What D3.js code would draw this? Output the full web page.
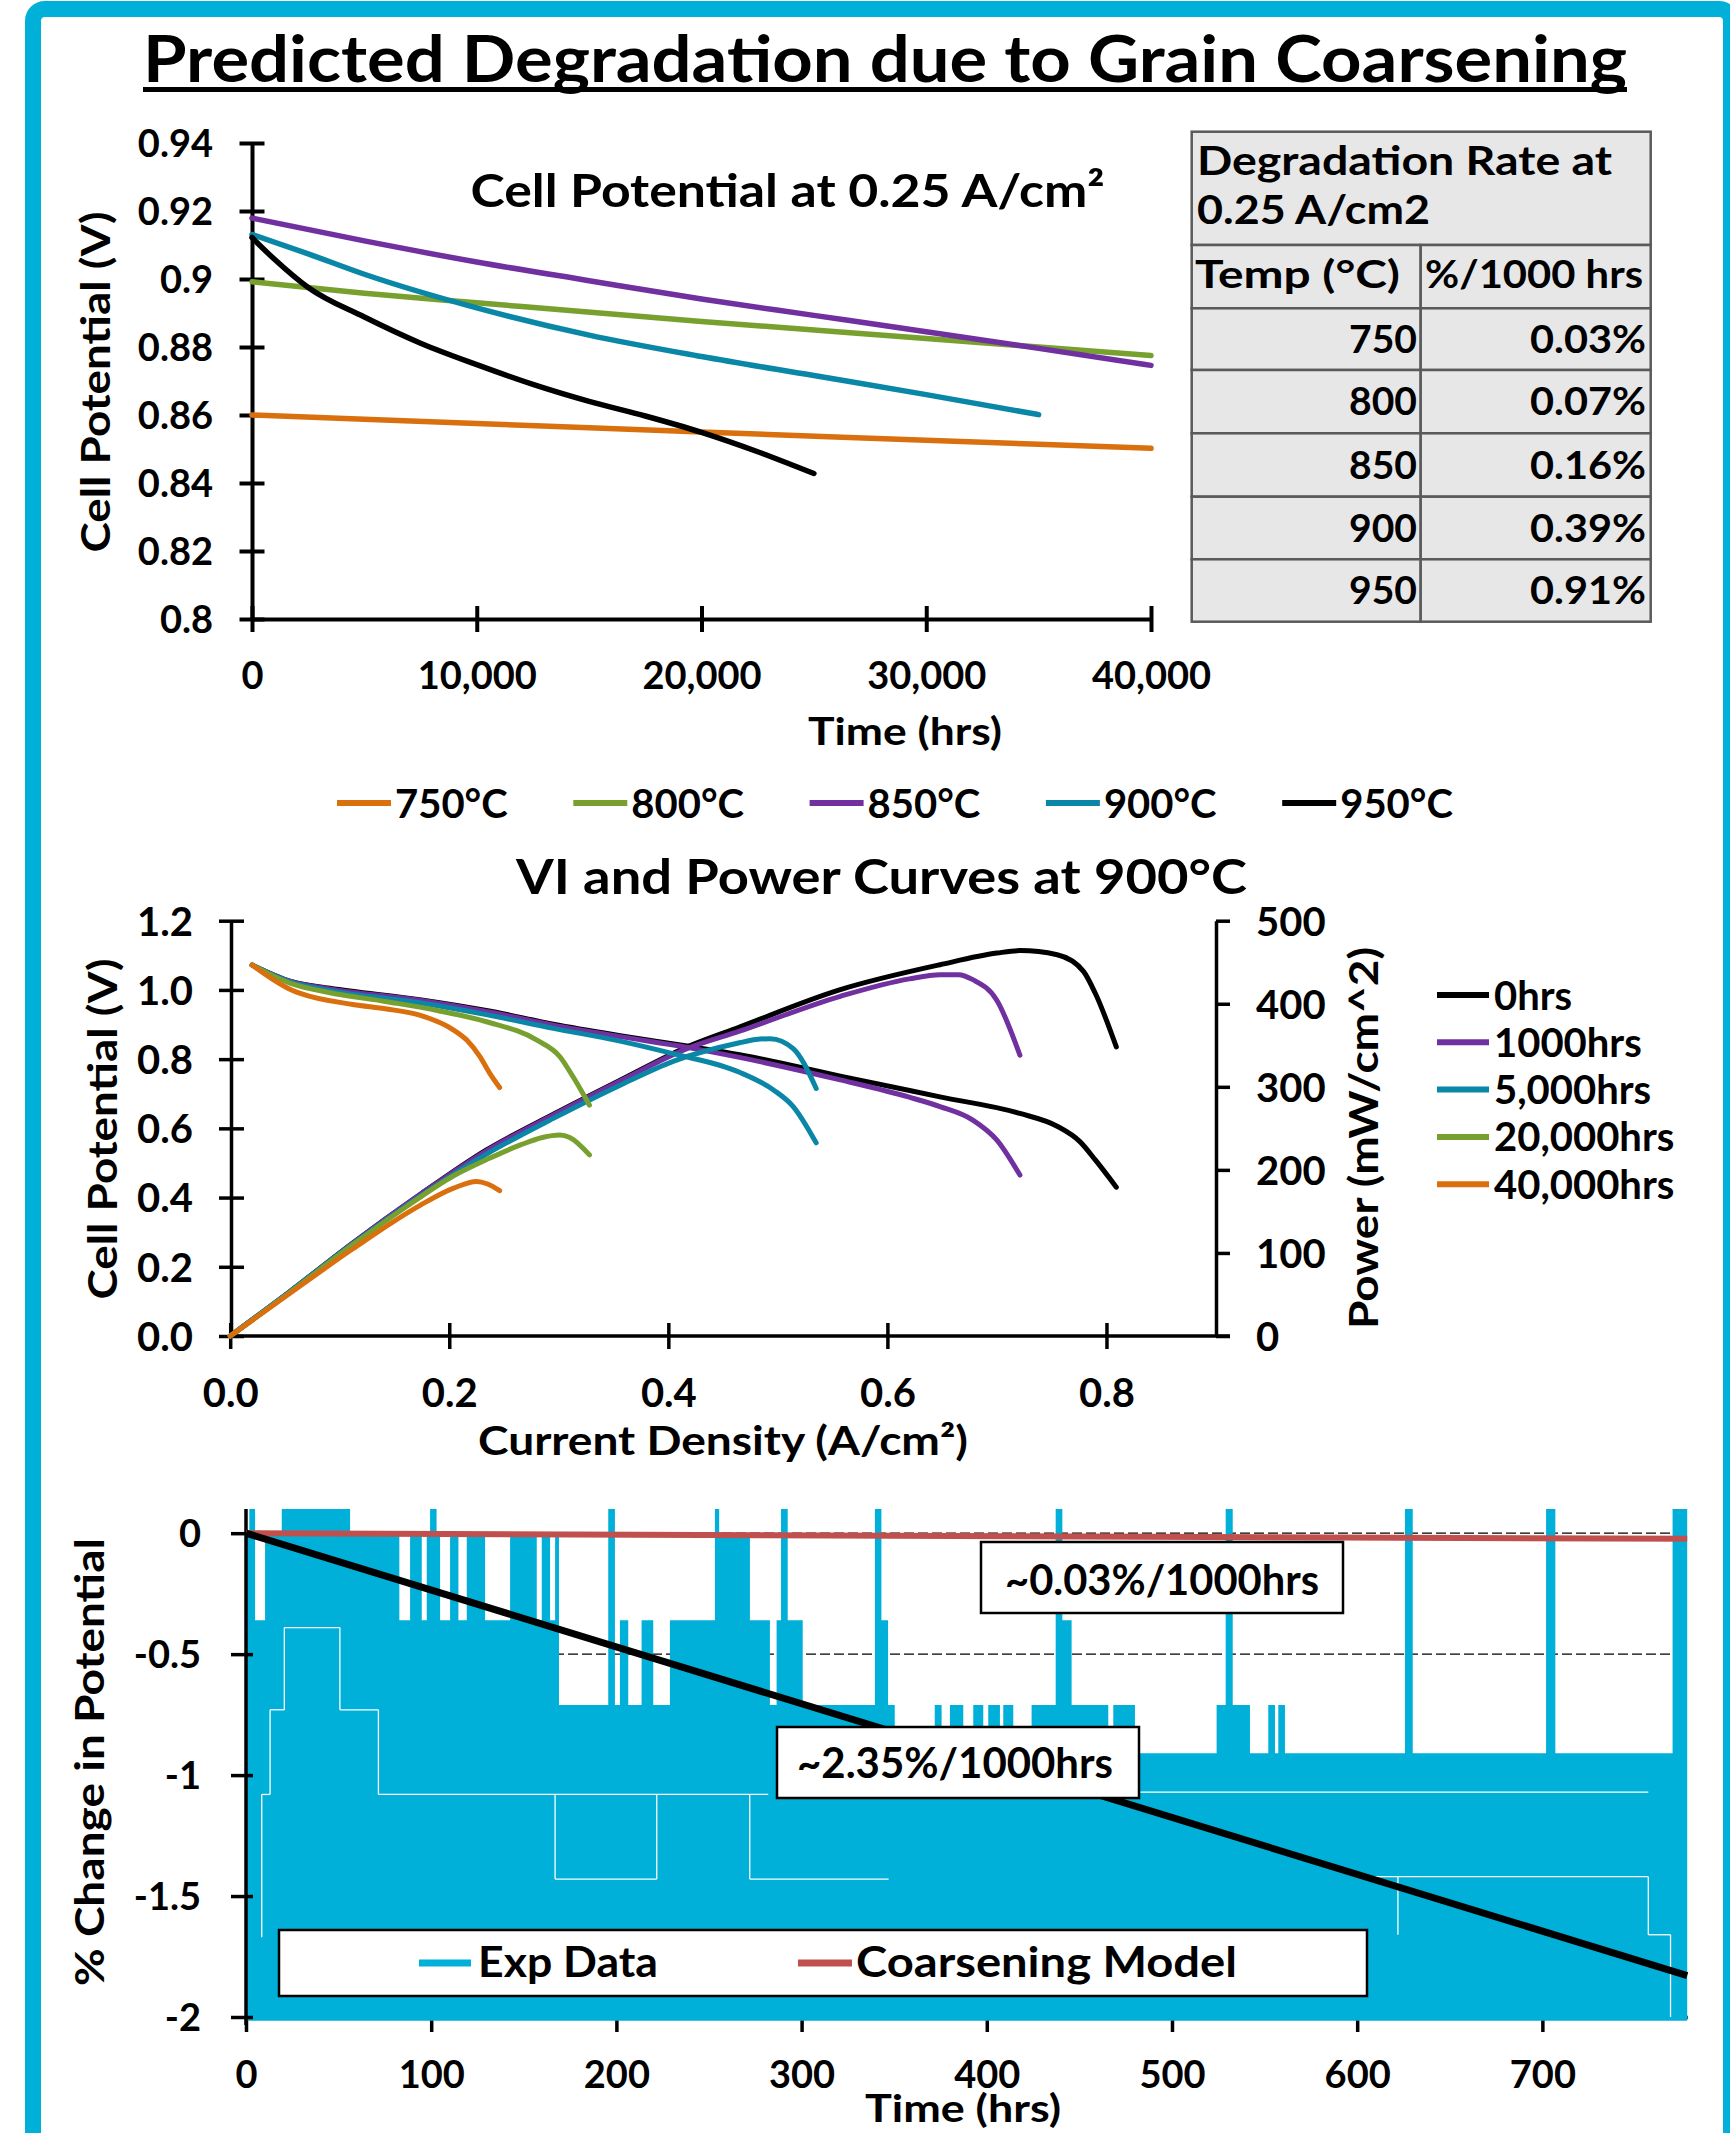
<!DOCTYPE html>
<html><head><meta charset="utf-8">
<script src="https://cdn.jsdelivr.net/npm/d3@7"></script>
<style>
body{margin:0;background:#fff}
text{font-family:Lato,'DejaVu Sans',sans-serif;font-weight:700;fill:#000}
</style>
</head><body><svg id="c" width="1730" height="2133"></svg>
<script>
// ================= DATA =================
// Chart 1: cell potential at 0.25 A/cm2 vs time
const tempSeries = ["750°C","800°C","850°C","900°C","950°C"];
const time750 = [0, 10000, 20000, 30000, 40000];
const pot750  = [0.8600, 0.8575, 0.8550, 0.8526, 0.8502];
const time800 = [0, 5000, 10000, 20000, 30000, 40000];
const pot800  = [0.8992, 0.8958, 0.8930, 0.8875, 0.8825, 0.8775];
const time850 = [0, 5000, 10000, 15000, 20000, 25000, 30000, 35000, 40000];
const pot850  = [0.9179, 0.9112, 0.9050, 0.8995, 0.8941, 0.8893, 0.8845, 0.8796, 0.8746];
const time900 = [0, 2500, 5000, 10000, 15000, 20000, 25000, 30000, 35000];
const pot900  = [0.9131, 0.9074, 0.9014, 0.8915, 0.8835, 0.8772, 0.8716, 0.8660, 0.8601];
const time950 = [0, 1000, 2500, 5000, 7500, 10000, 12500, 15000, 17500, 20000, 22500, 25000];
const pot950  = [0.9122, 0.9058, 0.8975, 0.8888, 0.8811, 0.8748, 0.8690, 0.8640, 0.8597, 0.8549, 0.8492, 0.8428];
const timeTicks = [0, 10000, 20000, 30000, 40000];
const potTicks = [0.8, 0.82, 0.84, 0.86, 0.88, 0.9, 0.92, 0.94];

// Table
const tableTitle = ["Degradation Rate at", "0.25 A/cm2"];
const tableHead = ["Temp (°C)", "%/1000 hrs"];
const tableTemps = ["750", "800", "850", "900", "950"];
const tableRates = ["0.03%", "0.07%", "0.16%", "0.39%", "0.91%"];

// Chart 2: VI and power curves at 900°C  [current A/cm2, value]
const hourSeries = ["0hrs", "1000hrs", "5,000hrs", "20,000hrs", "40,000hrs"];
const vi0hrs = [[0.020,1.072],[0.056,1.024],[0.091,1.005],[0.173,0.972],[0.235,0.940],[0.295,0.901],[0.356,0.868],[0.417,0.838],[0.465,0.813],[0.557,0.751],[0.648,0.691],[0.721,0.643],[0.755,0.606],[0.776,0.561],[0.790,0.508],[0.809,0.430]];
const pw0hrs = [[0,0],[0.052,51],[0.112,112],[0.173,170],[0.234,224],[0.295,267],[0.356,308],[0.417,348],[0.465,372],[0.557,417],[0.648,447],[0.700,461],[0.721,464],[0.755,459],[0.779,439],[0.790,412],[0.809,348]];
const vi1000hrs = [[0.020,1.072],[0.056,1.024],[0.091,1.003],[0.173,0.970],[0.235,0.937],[0.295,0.898],[0.356,0.865],[0.417,0.834],[0.465,0.805],[0.557,0.740],[0.620,0.690],[0.648,0.663],[0.678,0.624],[0.700,0.566],[0.721,0.465]];
const pw1000hrs = [[0,0],[0.052,51],[0.112,112],[0.173,170],[0.234,223],[0.295,266],[0.356,307],[0.417,346],[0.465,367],[0.557,409],[0.620,430],[0.648,435],[0.665,435],[0.678,429],[0.700,404],[0.721,338]];
const vi5000hrs = [[0.020,1.072],[0.056,1.022],[0.091,0.998],[0.173,0.963],[0.235,0.928],[0.295,0.889],[0.356,0.852],[0.405,0.815],[0.465,0.762],[0.496,0.711],[0.514,0.663],[0.535,0.558]];
const pw5000hrs = [[0,0],[0.052,51],[0.112,111],[0.173,168],[0.234,219],[0.295,262],[0.356,302],[0.405,331],[0.465,353],[0.480,357],[0.493,358],[0.514,346],[0.535,298]];
const vi20000hrs = [[0.020,1.072],[0.056,1.018],[0.091,0.992],[0.143,0.966],[0.190,0.940],[0.234,0.908],[0.280,0.855],[0.301,0.807],[0.313,0.749],[0.328,0.667]];
const pw20000hrs = [[0,0],[0.052,50],[0.112,110],[0.160,155],[0.204,193],[0.235,213],[0.265,230],[0.285,239],[0.301,242],[0.310,239],[0.328,218]];
const vi40000hrs = [[0.020,1.072],[0.056,1.000],[0.064,0.990],[0.112,0.958],[0.143,0.945],[0.173,0.927],[0.204,0.884],[0.216,0.855],[0.228,0.807],[0.237,0.759],[0.246,0.718]];
const pw40000hrs = [[0,0],[0.052,49],[0.112,105],[0.173,157],[0.204,178],[0.225,186],[0.235,183],[0.246,175]];
const curTicks = [0, 0.2, 0.4, 0.6, 0.8];
const voltTicks = [0, 0.2, 0.4, 0.6, 0.8, 1.0, 1.2];
const powerTicks = [0, 100, 200, 300, 400, 500];

// Chart 3: % change in potential vs time (hrs)
// experimental data: upper level of the dense oscillating band, step-wise from each time
const expTime  = [0, 1.8, 4.9, 10.3, 19.3, 56.2, 82.8, 88.6, 94.9, 97.6, 99.4, 102.9, 104.8, 110.2, 114.7, 119.2, 129.1, 142.6, 157, 159.7, 164.2, 166.9, 169, 195.6, 199.2, 201.9, 206.4, 213.6, 219.9, 228.9, 253.2, 255.5, 272.1, 282.9, 286.5, 288.9, 292.5, 300.6, 339.6, 343.1, 346.7, 350.3, 371.9, 375.6, 380.1, 387.3, 392.7, 398.1, 400.8, 407.1, 408.9, 414.3, 424.2, 437.2, 440.8, 445.8, 465.6, 468.3, 480, 524.1, 529, 532.8, 542.1, 552, 555.6, 557.4, 561, 625.8, 630, 702, 707, 770.3, 778.2];
const expUpper = [0, 0.1, -0.36, 0, 0.1, 0, -0.36, 0, -0.36, 0, 0.1, 0, -0.36, 0, -0.36, 0, -0.36, 0, -0.36, 0, -0.36, 0, -0.71, 0.1, -0.71, -0.36, -0.71, -0.36, -0.71, -0.36, 0.1, 0, -0.36, -0.71, -0.36, 0.1, -0.36, -0.71, 0.1, -0.36, -0.71, -0.91, -0.71, -0.91, -0.71, -0.91, -0.71, -0.91, -0.71, -0.91, -0.71, -0.91, -0.71, 0.1, -0.36, -0.71, -0.91, -0.71, -0.91, -0.71, 0.1, -0.71, -0.91, -0.71, -0.91, -0.71, -0.91, 0.1, -0.91, 0.1, -0.91, 0.1, 0.1];
const expLower = -2.015;
// thin gaps visible inside the band: dwell levels [start hrs, end hrs, % change]
const gapStart = [8.5, 13.0, 20.7, 50.7, 71.5, 166.9, 272.0, 482.8, 605.0, 757.2];
const gapEnd   = [13.0, 20.7, 50.7, 71.5, 282.0, 221.8, 347.0, 757.2, 757.2, 769.2];
const gapLevel = [-1.08, -0.73, -0.39, -0.73, -1.08, -1.43, -1.43, -1.07, -1.42, -1.66];
// vertical steps between dwell levels [hrs, from %, to %]
const stepTime = [8.5, 13.0, 20.7, 50.7, 71.5, 166.9, 221.8, 272.0, 622.0, 757.2, 769.2];
const stepFrom = [-1.67, -1.08, -0.73, -0.39, -0.73, -1.08, -1.08, -1.08, -1.42, -1.42, -1.66];
const stepTo   = [-1.08, -0.73, -0.39, -0.73, -1.08, -1.43, -1.43, -1.43, -1.66, -1.66, -2.00];
const modelTime = [0, 778.2];
const modelChange = [0, -0.0233];
const fitTime = [0, 778.2];
const fitChange = [0, -1.829];
const hrsTicks = [0, 100, 200, 300, 400, 500, 600, 700];
const changeTicks = [0, -0.5, -1, -1.5, -2];

// ================= STYLE =================
const COL = {cyan:"#00B0D8", orange:"#D9700D", green:"#77A02F", purple:"#7030A0", teal:"#0A87A6", red:"#C0504D", black:"#000"};
const tempColors = [COL.orange, COL.green, COL.purple, COL.teal, COL.black];
const hourColors = [COL.black, COL.purple, COL.teal, COL.green, COL.orange];

const svg = d3.select("#c");

function txt(x, y, s, size, anchor, opts) {
  opts = opts || {};
  const t = svg.append("text").attr("x", x).attr("y", y).attr("font-size", size)
    .attr("text-anchor", anchor || "start").text(s);
  if (opts.len) t.attr("textLength", opts.len).attr("lengthAdjust", opts.adj || "spacingAndGlyphs");
  if (opts.rot) t.attr("transform", `rotate(-90,${x},${y})`);
  return t;
}
function styleAxis(g, sw) {
  g.attr("font-family", null).attr("font-size", null);
  g.select(".domain").attr("stroke", "#000").attr("stroke-width", sw);
  g.selectAll(".tick line").attr("stroke", "#000").attr("stroke-width", sw);
  g.selectAll(".tick text").attr("fill", "#000");
}

// page border
svg.append("rect").attr("x", 33).attr("y", 9).attr("width", 1698).attr("height", 2400)
  .attr("rx", 12).attr("fill", "none").attr("stroke", COL.cyan).attr("stroke-width", 16);

// main title
txt(885, 82, "Predicted Degradation due to Grain Coarsening", 65, "middle", {len: 1484});
svg.append("line").attr("x1", 143).attr("x2", 1627).attr("y1", 89.5).attr("y2", 89.5)
  .attr("stroke", "#000").attr("stroke-width", 5);

// ================= CHART 1 =================
const x1 = d3.scaleLinear().domain([0, 40000]).range([252, 1151]);
const y1 = d3.scaleLinear().domain([0.8, 0.94]).range([619, 143]);
{
  const gy = svg.append("g").attr("transform", "translate(252,0)")
    .call(d3.axisLeft(y1).tickValues(potTicks).tickFormat(d3.format(".2~f")).tickSizeOuter(0));
  styleAxis(gy, 4);
  gy.selectAll(".tick line").attr("x1", -12.5).attr("x2", 12.5);
  gy.selectAll(".tick text").attr("x", -39).attr("font-size", 38).attr("dy", "0.36em");
  const gx = svg.append("g").attr("transform", "translate(0,619)")
    .call(d3.axisBottom(x1).tickValues(timeTicks).tickFormat(d3.format(",")).tickSizeOuter(0));
  styleAxis(gx, 4);
  gx.selectAll(".tick line").attr("y1", -13).attr("y2", 13);
  gx.selectAll(".tick text").attr("y", 70).attr("dy", null).attr("font-size", 38);

  const series = [[time750, pot750], [time800, pot800], [time850, pot850], [time900, pot900], [time950, pot950]];
  const line = d3.line().x(d => x1(d[0])).y(d => y1(d[1])).curve(d3.curveMonotoneX);
  series.forEach((s, k) => {
    svg.append("path").attr("d", line(d3.zip(s[0], s[1]))).attr("fill", "none")
      .attr("stroke", tempColors[k]).attr("stroke-width", 5.5).attr("stroke-linecap", "round");
  });
  txt(787.5, 207, "Cell Potential at 0.25 A/cm²", 46, "middle", {len: 634});
  txt(905, 745, "Time (hrs)", 38, "middle", {len: 194});
  txt(110, 382, "Cell Potential (V)", 40, "middle", {rot: true, len: 341});

  // legend
  tempSeries.forEach((name, k) => {
    const lx = 337 + k * 236.3;
    svg.append("line").attr("x1", lx).attr("x2", lx + 54).attr("y1", 803).attr("y2", 803)
      .attr("stroke", tempColors[k]).attr("stroke-width", 6);
    txt(lx + 58, 817.5, name, 40, "start");
  });
}

// ================= TABLE =================
{
  const tx = [1191.7, 1420.7, 1650.7];
  const ty = [131.7, 245, 308.3, 370, 433.3, 496.7, 559.3, 621.7];
  const cell = (x0, y0, x1_, y1_) => svg.append("rect").attr("x", x0).attr("y", y0)
    .attr("width", x1_ - x0).attr("height", y1_ - y0).attr("fill", "#E7E7E7")
    .attr("stroke", "#5A5A5A").attr("stroke-width", 2.5);
  cell(tx[0], ty[0], tx[2], ty[1]);
  for (let r = 1; r < 7; r++) { cell(tx[0], ty[r], tx[1], ty[r + 1]); cell(tx[1], ty[r], tx[2], ty[r + 1]); }
  txt(1197, 175, tableTitle[0], 40, "start", {len: 415});
  txt(1197, 224, tableTitle[1], 40, "start", {len: 233});
  txt(1195, 288, tableHead[0], 39, "start", {len: 205});
  txt(1425, 288, tableHead[1], 39, "start", {len: 218});
  tableTemps.forEach((t, k) => {
    const yb = (ty[k + 2] + ty[k + 3]) / 2 + 13.5;
    txt(1417, yb, t, 39, "end", {len: 68});
    txt(1646, yb, tableRates[k], 39, "end", {len: 116});
  });
}

// ================= CHART 2 =================
const x2 = d3.scaleLinear().domain([0, 0.9]).range([230.2, 1216]);
const yL = d3.scaleLinear().domain([0, 1.2]).range([1336, 920.7]);
const yR = d3.scaleLinear().domain([0, 500]).range([1336, 920.7]);
{
  const gl = svg.append("g").attr("transform", "translate(231,0)")
    .call(d3.axisLeft(yL).tickValues(voltTicks).tickFormat(d3.format(".1f")).tickSizeOuter(0));
  styleAxis(gl, 3.5);
  gl.selectAll(".tick line").attr("x1", -12).attr("x2", 13);
  gl.selectAll(".tick text").attr("x", -38).attr("font-size", 40).attr("dy", "0.36em");
  const gr = svg.append("g").attr("transform", "translate(1216,0)")
    .call(d3.axisRight(yR).tickValues(powerTicks).tickFormat(d3.format("d")).tickSizeOuter(0).tickSizeInner(14));
  styleAxis(gr, 3.5);
  gr.selectAll(".tick text").attr("x", 40).attr("font-size", 40).attr("dy", "0.36em");
  const gb = svg.append("g").attr("transform", "translate(0,1336)")
    .call(d3.axisBottom(x2).tickValues(curTicks).tickFormat(d3.format(".1f")).tickSizeOuter(0));
  styleAxis(gb, 3.5);
  gb.select(".domain").attr("d", "M230,0H1230");
  gb.selectAll(".tick line").attr("y1", -13).attr("y2", 13);
  gb.selectAll(".tick text").attr("y", 71).attr("dy", null).attr("font-size", 40);

  const viSets = [vi0hrs, vi1000hrs, vi5000hrs, vi20000hrs, vi40000hrs];
  const pwSets = [pw0hrs, pw1000hrs, pw5000hrs, pw20000hrs, pw40000hrs];
  const lv = d3.line().x(d => x2(d[0])).y(d => yL(d[1])).curve(d3.curveMonotoneX);
  const lp = d3.line().x(d => x2(d[0])).y(d => yR(d[1])).curve(d3.curveMonotoneX);
  viSets.forEach((s, k) => {
    svg.append("path").attr("d", lv(s)).attr("fill", "none").attr("stroke", hourColors[k])
      .attr("stroke-width", 5).attr("stroke-linecap", "round").attr("stroke-linejoin", "round");
    svg.append("path").attr("d", lp(pwSets[k])).attr("fill", "none").attr("stroke", hourColors[k])
      .attr("stroke-width", 5).attr("stroke-linecap", "round").attr("stroke-linejoin", "round");
  });

  txt(881.5, 894, "VI and Power Curves at 900°C", 48, "middle", {len: 731});
  txt(723, 1455, "Current Density (A/cm²)", 40, "middle", {len: 490});
  txt(117, 1129, "Cell Potential (V)", 40, "middle", {rot: true, len: 341});
  txt(1378, 1138, "Power (mW/cm^2)", 40, "middle", {rot: true, len: 382});

  hourSeries.forEach((name, k) => {
    const ly = 995 + k * 47.3;
    svg.append("line").attr("x1", 1437).attr("x2", 1489).attr("y1", ly).attr("y2", ly)
      .attr("stroke", hourColors[k]).attr("stroke-width", 6);
    txt(1494, ly + 14.5, name, 40, "start");
  });
}

// ================= CHART 3 =================
const x3 = d3.scaleLinear().domain([0, 778.2]).range([246, 1687.2]);
const y3 = d3.scaleLinear().domain([-2, 0.1]).range([2017, 1509]);
{
  // dashed gridlines
  changeTicks.filter(v => v > -2).forEach(v => {
    svg.append("line").attr("x1", x3(0)).attr("x2", x3(778.2)).attr("y1", y3(v)).attr("y2", y3(v))
      .attr("stroke", "#000").attr("stroke-width", 1.3).attr("stroke-dasharray", "10,4");
  });
  const gb = svg.append("g").attr("transform", "translate(0,2017)")
    .call(d3.axisBottom(x3).tickValues(hrsTicks).tickFormat(d3.format("d")).tickSizeOuter(0).tickSizeInner(15));
  styleAxis(gb, 3.5);
  gb.selectAll(".tick text").attr("y", 71).attr("dy", null).attr("font-size", 38);

  // experimental data band
  const expPts = d3.zip(expTime, expUpper);
  const area = d3.area().x(d => x3(d[0])).y0(y3(expLower)).y1(d => y3(d[1])).curve(d3.curveStepAfter);
  svg.append("path").attr("d", area(expPts)).attr("fill", COL.cyan);
  // thin white dwell lines inside the band
  const g = svg.append("g").attr("stroke", "#fff").attr("stroke-width", 1.3);
  gapStart.forEach((s, k) => {
    g.append("line").attr("x1", x3(s)).attr("x2", x3(gapEnd[k])).attr("y1", y3(gapLevel[k])).attr("y2", y3(gapLevel[k]));
  });
  stepTime.forEach((t, k) => {
    g.append("line").attr("x1", x3(t)).attr("x2", x3(t)).attr("y1", y3(stepFrom[k])).attr("y2", y3(stepTo[k]));
  });

  const gl = svg.append("g").attr("transform", "translate(246,0)")
    .call(d3.axisLeft(y3).tickValues(changeTicks).tickFormat(d => String(d)).tickSizeOuter(0));
  styleAxis(gl, 3.5);
  gl.select(".domain").attr("d", "M0,1509V2025");
  gl.selectAll(".tick line").attr("x1", -15).attr("x2", 7);
  gl.selectAll(".tick text").attr("x", -45).attr("font-size", 38).attr("dy", "0.36em");

  const ln = d3.line().x(d => x3(d[0])).y(d => y3(d[1]));
  svg.append("path").attr("d", ln(d3.zip(modelTime, modelChange))).attr("fill", "none")
    .attr("stroke", COL.red).attr("stroke-width", 6);
  svg.append("path").attr("d", ln(d3.zip(fitTime, fitChange))).attr("fill", "none")
    .attr("stroke", "#000").attr("stroke-width", 7);

  const box = (x0, y0, x1_, y1_) => svg.append("rect").attr("x", x0).attr("y", y0)
    .attr("width", x1_ - x0).attr("height", y1_ - y0).attr("fill", "#fff")
    .attr("stroke", "#000").attr("stroke-width", 2.5);
  box(981, 1542, 1343, 1613);
  txt(1162, 1595, "~0.03%/1000hrs", 42, "middle", {len: 314});
  box(777, 1727, 1139, 1798);
  txt(955, 1778, "~2.35%/1000hrs", 42, "middle", {len: 316});

  box(279, 1930, 1367, 1996);
  svg.append("line").attr("x1", 419).attr("x2", 471).attr("y1", 1963).attr("y2", 1963)
    .attr("stroke", COL.cyan).attr("stroke-width", 7);
  txt(478, 1977, "Exp Data", 42, "start", {len: 180});
  svg.append("line").attr("x1", 798).attr("x2", 852).attr("y1", 1963).attr("y2", 1963)
    .attr("stroke", COL.red).attr("stroke-width", 7);
  txt(856, 1977, "Coarsening Model", 42, "start", {len: 381});

  txt(963, 2122, "Time (hrs)", 38, "middle", {len: 196});
  txt(104, 1762, "% Change in Potential", 40, "middle", {rot: true, len: 448});
}
</script>
</body></html>
